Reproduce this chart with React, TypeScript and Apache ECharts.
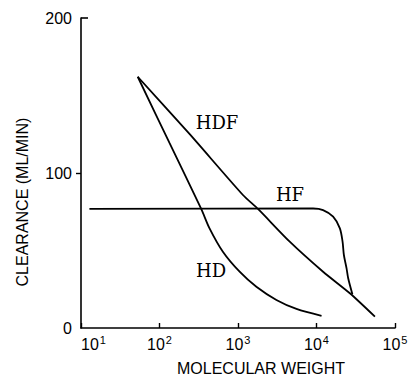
import React, { useEffect, useRef } from "react";
import * as echarts from "echarts";

// Molecular weight (log scale) vs clearance (mL/min)
const hdfData: [number, number][] = [
  [52.8, 162.1], [241, 125.2], [1156, 85.8], [1798, 76.8], [4560, 55.7],
  [12130, 36.3], [26600, 22.4], [55500, 7.3],
];
const hdData: [number, number][] = [
  [52.8, 162.1], [134, 119.4], [340, 76.8], [434, 64.3], [642, 49.2], [1049, 36.3],
  [1714, 26.6], [3086, 18.1], [5555, 12.3], [11590, 7.9],
];
const hfData: [number, number][] = [
  [12.8, 76.8], [9060, 77.1], [12130, 76.1], [16290, 71.8], [19850, 64.3],
  [21480, 55.7], [22330, 47.1], [24150, 38.5], [25330, 32.1], [28660, 21.8],
];
const yTicks = [0, 100, 200];
const xMin = 10;
const xMax = 100000;
const curveNames = ["HDF", "HF", "HD"];
const xTitle = "MOLECULAR WEIGHT";
const yTitle = "CLEARANCE (ML/MIN)";

const sansNarrow = "'Liberation Sans Narrow', 'Liberation Sans', Arial, sans-serif";
const serif = "'DejaVu Serif', 'Liberation Serif', serif";

export default function App() {
  const ref = useRef<HTMLDivElement>(null);
  useEffect(() => {
    if (!ref.current) return;
    document.body.style.margin = "0";
    document.body.style.overflow = "hidden";
    const chart = echarts.init(ref.current, undefined, { renderer: "svg" });
    const lineStyle = { color: "#000", width: 1.8 };
    const mkSeries = (name: string, data: [number, number][], smooth: number) => ({
      name,
      type: "line",
      data,
      smooth,
      showSymbol: false,
      symbol: "none",
      lineStyle,
    });
    const labelText = (x: number, y: number, text: string, font: string, rotation = 0) => ({
      type: "text",
      x,
      y,
      rotation,
      style: { text, font, fill: "#000", textAlign: "center", textVerticalAlign: "middle" },
    });
    chart.setOption({
      animation: false,
      backgroundColor: "#fff",
      grid: { left: 81, right: 16, top: 18, bottom: 48 },
      xAxis: {
        type: "log",
        logBase: 10,
        min: xMin,
        max: xMax,
        axisLine: { lineStyle: { color: "#000", width: 1.6 } },
        axisTick: { inside: true, length: 5, lineStyle: { color: "#000", width: 1.4 } },
        splitLine: { show: false },
        axisLabel: {
          margin: 6,
          color: "#000",
          fontFamily: sansNarrow,
          fontSize: 16,
          alignMinLabel: "left",
          formatter: (v: number) => `{b|10}{s|${Math.round(Math.log10(v))}}`,
          rich: {
            b: { fontSize: 16, fontFamily: sansNarrow, color: "#000" },
            s: { fontSize: 11, fontFamily: sansNarrow, color: "#000", padding: [0, 0, 9, 1] },
          },
        },
      },
      yAxis: {
        type: "value",
        min: yTicks[0],
        max: yTicks[2],
        interval: 100,
        axisLine: { show: true, lineStyle: { color: "#000", width: 1.6 } },
        axisTick: { show: true, length: 5, customValues: [yTicks[1]], lineStyle: { color: "#000", width: 1.4 } },
        splitLine: { show: false },
        axisLabel: { margin: 9, color: "#000", fontFamily: sansNarrow, fontSize: 16 },
      },
      series: [
        mkSeries(curveNames[0], hdfData, 0.25),
        mkSeries(curveNames[1], hfData, 0.3),
        mkSeries(curveNames[2], hdData, 0.3),
      ],
    });
    const axisX = chart.convertToPixel({ xAxisIndex: 0 }, xMin) as number;
    const topY = chart.convertToPixel({ yAxisIndex: 0 }, yTicks[2]) as number;
    chart.setOption({
      graphic: [
        { type: "line", shape: { x1: axisX, y1: topY, x2: axisX + 7, y2: topY }, style: { stroke: "#000", lineWidth: 1.6 } },
        labelText(217, 122, curveNames[0], `18px ${serif}`),
        labelText(290, 194, curveNames[1], `18px ${serif}`),
        labelText(211, 270, curveNames[2], `18px ${serif}`),
        labelText(261, 368, xTitle, `16px ${sansNarrow}`),
        labelText(22, 202, yTitle, `16px ${sansNarrow}`, Math.PI / 2),
      ],
    });
    return () => chart.dispose();
  }, []);
  return <div ref={ref} style={{ width: 411, height: 376 }} />;
}
